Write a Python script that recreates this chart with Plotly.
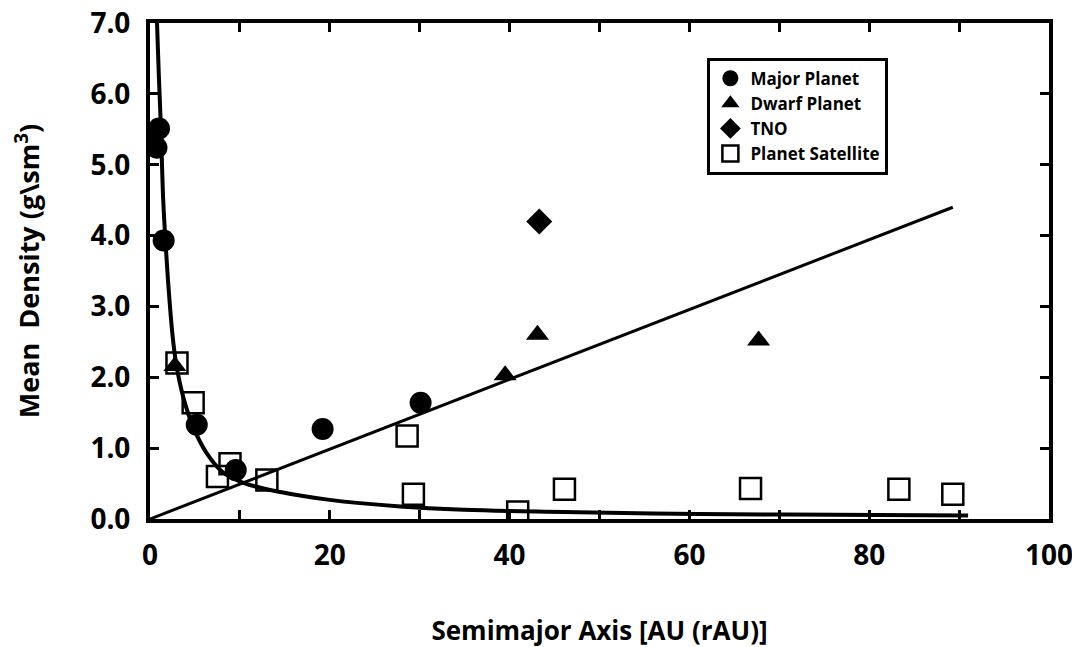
import plotly.graph_objects as go

# ---- data ----
major_x = [0.39, 0.72, 1.0, 1.52, 5.2, 9.54, 19.2, 30.1]
major_y = [5.43, 5.24, 5.51, 3.93, 1.33, 0.69, 1.27, 1.64]

dwarf_x = [2.77, 39.5, 43.1, 67.7]
dwarf_y = [2.16, 2.03, 2.6, 2.52]

tno_x = [43.3]
tno_y = [4.2]

sat_x = [3.0, 4.8, 7.5, 8.9, 13.0, 28.6, 29.3, 40.9, 46.1, 66.8, 83.3, 89.3]
sat_y = [2.2, 1.64, 0.6, 0.78, 0.55, 1.17, 0.35, 0.1, 0.42, 0.43, 0.42, 0.35]

# fitted curves
curve_x = [0.78, 1.0, 1.19, 1.47, 1.78, 2.1, 2.5, 2.9, 3.7, 4.8, 6.3, 8.1, 10.4,
           14.5, 20.0, 27.5, 34.9, 46.0, 61.0, 76.0, 91.0]
curve_y = [7.0, 6.2, 5.6, 4.5, 3.8, 3.2, 2.6, 2.2, 1.72, 1.3, 0.93, 0.66, 0.51,
           0.38, 0.27, 0.18, 0.13, 0.10, 0.07, 0.06, 0.05]

line_x = [0.0, 89.3]
line_y = [0.0, 4.4]

x_ticks = [0, 20, 40, 60, 80, 100]
y_ticks = [0, 1, 2, 3, 4, 5, 6, 7]

FONT = "Open Sans"

fig = go.Figure()

fig.add_trace(go.Scatter(x=curve_x, y=curve_y, mode="lines", line=dict(color="black", width=4, shape="spline"),
                         showlegend=False, hoverinfo="skip"))
fig.add_trace(go.Scatter(x=line_x, y=line_y, mode="lines", line=dict(color="black", width=3),
                         showlegend=False, hoverinfo="skip"))

fig.add_trace(go.Scatter(x=major_x, y=major_y, mode="markers", name="Major Planet",
                         marker=dict(symbol="circle", size=22, color="black")))
fig.add_trace(go.Scatter(x=dwarf_x, y=dwarf_y, mode="markers", name="Dwarf Planet",
                         marker=dict(symbol="triangle-up", size=20, color="black")))
fig.add_trace(go.Scatter(x=tno_x, y=tno_y, mode="markers", name="TNO",
                         marker=dict(symbol="diamond", size=20, color="black")))
fig.add_trace(go.Scatter(x=sat_x, y=sat_y, mode="markers", name="Planet Satellite",
                         marker=dict(symbol="square-open", size=21, color="black", line=dict(width=2.5))))

fig.update_layout(
    width=1080, height=647,
    paper_bgcolor="white", plot_bgcolor="white",
    margin=dict(l=142, r=39, t=15, b=136),
    font=dict(family=FONT, color="black"),
    legend=dict(
        x=0.62, y=0.93, xanchor="left", yanchor="top",
        bordercolor="black", borderwidth=3, bgcolor="white",
        font=dict(family=FONT, size=17, weight="bold", color="black"),
        itemsizing="trace", tracegroupgap=0,
    ),
)

fig.update_xaxes(
    range=[0, 100], tickvals=x_ticks, ticktext=[str(v) for v in x_ticks],
    showgrid=False, zeroline=False, automargin=False, ticklabeloverflow="allow",
    showline=True, linecolor="black", linewidth=4, mirror="ticks",
    ticks="inside", ticklen=9, tickwidth=3, tickcolor="black",
    minor=dict(dtick=10, ticks="inside", ticklen=9, tickwidth=3, tickcolor="black"),
    tickfont=dict(family=FONT, size=28, weight="bold"),
    ticklabelstandoff=8,
    title=dict(text="Semimajor Axis [AU (rAU)]", font=dict(family=FONT, size=26, weight="bold"), standoff=51),
)
fig.update_yaxes(
    range=[0, 7], tickvals=y_ticks, ticktext=[f"{v:.1f}" for v in y_ticks],
    showgrid=False, zeroline=False, automargin=False, ticklabeloverflow="allow",
    showline=True, linecolor="black", linewidth=4, mirror="ticks",
    ticks="inside", ticklen=9, tickwidth=3, tickcolor="black",
    tickfont=dict(family=FONT, size=28, weight="bold"),
    ticklabelstandoff=10,
    title=dict(text="Mean  Density (g\\sm<sup>3</sup>)", font=dict(family=FONT, size=27, weight="bold"), standoff=51),
)

fig.write_html("out.html")
